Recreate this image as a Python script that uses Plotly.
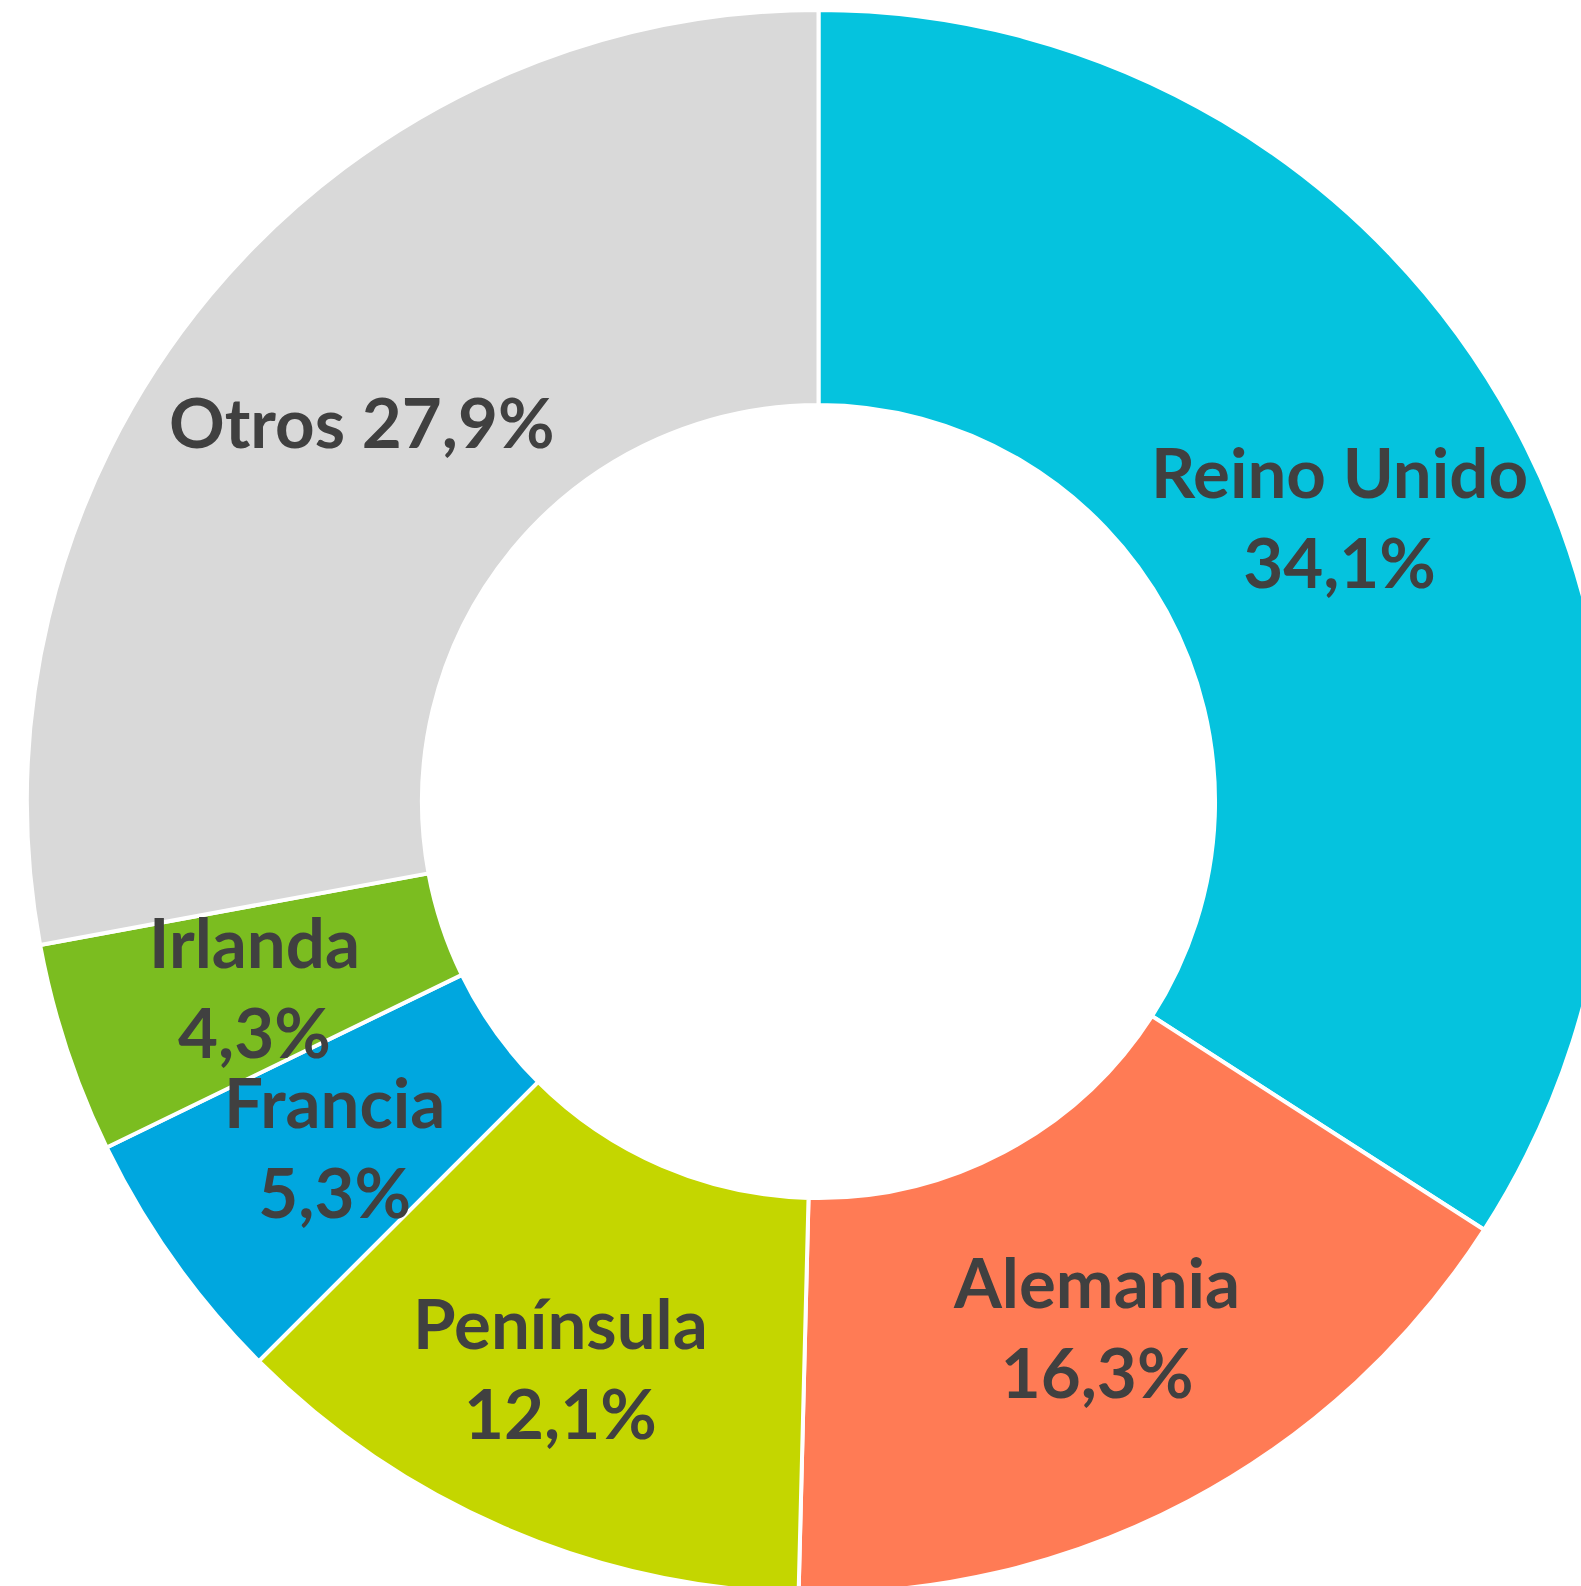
import math
import plotly.graph_objects as go

# ---- data ----
countries = ["Reino Unido", "Alemania", "Península", "Francia", "Irlanda", "Otros"]
shares = [34.1, 16.3, 12.1, 5.3, 4.3, 27.9]
colors = ["#05C3DE", "#FF7B55", "#C4D600", "#00A7DF", "#7BBD20", "#D9D9D9"]
label_separators = ["<br>", "<br>", "<br>", "<br>", "<br>", " "]

# ---- geometry / style ----
W, H = 1640, 1640
cx, cy = 818.5, 801.5
R_out, hole = 791.5, 0.501
R_in = R_out * hole
# manual label nudges (px) as in the original chart
label_nudge = {"Península": (-24, 20)}

fig = go.Figure(go.Pie(
    labels=countries,
    values=shares,
    sort=False,
    direction="clockwise",
    rotation=0,
    hole=hole,
    marker=dict(colors=colors, line=dict(color="white", width=4)),
    textinfo="none",
    hoverinfo="label+percent",
    showlegend=False,
    domain=dict(x=[(cx - R_out) / W, (cx + R_out) / W],
                y=[1 - (cy + R_out) / H, 1 - (cy - R_out) / H]),
))

total = sum(shares)
cum = 0.0
r_lab = (R_in + R_out) / 2
for name, v, sep in zip(countries, shares, label_separators):
    mid = (cum + v / 2) / total * 2 * math.pi
    cum += v
    dx, dy = label_nudge.get(name, (0, 0))
    px = cx + r_lab * math.sin(mid) + dx
    py = cy - r_lab * math.cos(mid) + dy
    txt = f"{name}{sep}{v:.1f}%".replace(".", ",")
    fig.add_annotation(
        x=px / W, y=1 - py / H, xref="paper", yref="paper",
        text=f"<b>{txt}</b>", showarrow=False,
        xanchor="center", yanchor="middle",
        font=dict(family="Lato", size=69, color="#404040"),
    )

fig.update_layout(
    width=W, height=H,
    margin=dict(l=0, r=0, t=0, b=0),
    paper_bgcolor="white", plot_bgcolor="white",
)

fig.write_html("out.html",
               post_script="document.body.style.margin='0';document.body.style.overflow='hidden';document.documentElement.style.overflow='hidden';")
